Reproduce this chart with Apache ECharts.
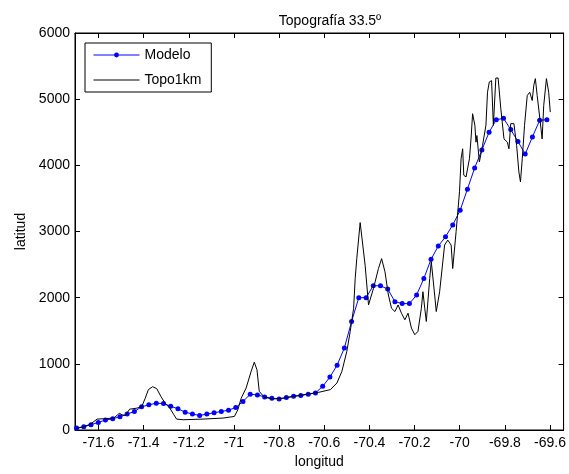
<!DOCTYPE html>
<html>
<head>
<meta charset="utf-8">
<script src="https://cdn.jsdelivr.net/npm/echarts@6/dist/echarts.min.js"></script>
<style>
html,body{margin:0;padding:0;background:#fff;}
#chart{width:569px;height:474px;}
</style>
</head>
<body>
<div id="chart"></div>
<script>
// ---- data ----
var modelLon = [-71.697,-71.665,-71.633,-71.601,-71.569,-71.537,-71.505,-71.473,-71.441,-71.409,
  -71.377,-71.344,-71.312,-71.280,-71.248,-71.216,-71.184,-71.152,-71.120,-71.088,
  -71.056,-71.024,-70.992,-70.960,-70.928,-70.896,-70.864,-70.832,-70.800,-70.768,
  -70.736,-70.704,-70.671,-70.639,-70.607,-70.575,-70.543,-70.511,-70.479,-70.447,
  -70.415,-70.383,-70.351,-70.319,-70.287,-70.255,-70.223,-70.191,-70.159,-70.127,
  -70.095,-70.063,-70.031,-69.998,-69.966,-69.934,-69.902,-69.870,-69.838,-69.806,
  -69.774,-69.742,-69.710,-69.678,-69.646,-69.614];
var modelAlt = [30,50,80,115,150,170,200,240,280,350,
  380,405,400,360,320,270,240,220,240,260,
  280,300,340,430,540,530,500,480,470,490,
  510,520,540,560,660,800,980,1240,1640,2000,
  2000,2180,2180,2130,1940,1910,1910,2040,2290,2580,
  2780,2920,3100,3320,3640,3960,4230,4500,4690,4710,
  4540,4360,4170,4430,4680,4690];

var topoLon = [-71.700,-71.665,-71.635,-71.606,-71.577,-71.533,-71.518,-71.508,-71.496,-71.481,
  -71.462,-71.430,-71.408,-71.393,-71.379,-71.360,-71.342,-71.324,-71.305,-71.284,
  -71.266,-71.254,-71.225,-71.137,-71.049,-70.998,-70.983,-70.968,-70.946,-70.924,
  -70.910,-70.898,-70.888,-70.866,-70.829,-70.785,-70.698,-70.624,-70.573,-70.544,
  -70.522,-70.500,-70.485,-70.470,-70.463,-70.456,-70.441,-70.419,-70.404,-70.397,
  -70.382,-70.360,-70.346,-70.331,-70.316,-70.302,-70.287,-70.273,-70.258,-70.243,
  -70.229,-70.214,-70.199,-70.185,-70.170,-70.163,-70.155,-70.148,-70.133,-70.126,
  -70.111,-70.104,-70.089,-70.067,-70.053,-70.038,-70.031,-70.016,-70.001,-69.994,
  -69.987,-69.982,-69.972,-69.957,-69.950,-69.943,-69.933,-69.928,-69.924,-69.913,
  -69.899,-69.884,-69.877,-69.869,-69.859,-69.851,-69.840,-69.830,-69.818,-69.804,
  -69.789,-69.782,-69.774,-69.760,-69.748,-69.738,-69.731,-69.723,-69.713,-69.701,
  -69.690,-69.679,-69.672,-69.665,-69.657,-69.645,-69.635,-69.628,-69.616,-69.606,
  -69.599];
var topoAlt = [20,50,90,165,170,180,220,255,230,220,
  315,330,355,480,610,655,625,510,405,330,
  230,165,155,165,180,205,305,480,635,885,
  1025,910,585,495,470,480,530,570,610,710,
  885,1190,1490,1840,2290,2590,3135,2490,1890,1865,
  2140,2440,2590,2390,2040,1840,1790,1890,1765,1665,
  1765,1540,1440,1490,1840,2090,1840,1640,2290,2545,
  2040,1790,2090,2795,2870,2795,2440,3000,3600,4100,
  4250,3850,3825,4100,4400,4780,4605,4350,4450,4050,
  4300,4605,5105,5260,5280,4605,5320,5320,4855,4400,
  4350,4250,4630,4630,4300,3900,3750,4100,4605,5055,
  5105,4980,5210,5310,5055,4705,4400,4905,5310,5105,
  4805];

var xTicks = [-71.6,-71.4,-71.2,-71,-70.8,-70.6,-70.4,-70.2,-70,-69.8,-69.6];
var yTicks = [0,1000,2000,3000,4000,5000,6000];

var titleText = 'Topografía 33.5º';
var xName = 'longitud';
var yName = 'latitud';
var seriesNames = ['Modelo', 'Topo1km'];

// ---- chart ----
function zip(a, b){ return a.map(function(v,i){ return [v, b[i]]; }); }
var FONT = 'Liberation Sans';
var xMin = -71.704, xMax = -69.54;
function fmtX(v){ return String(Number(Number(v).toFixed(1))); }
function fmtY(v){ return String(Math.round(v)); }

var chart = echarts.init(document.getElementById('chart'), null, {renderer:'canvas'});
var tickStyle = {show:true, inside:true, length:5, lineStyle:{color:'#000', width:1}};
chart.setOption({
  backgroundColor:'#fff',
  animation:false,
  title:{
    text:titleText, left:325, top:9, textAlign:'center',
    textStyle:{fontFamily:FONT, fontSize:14, fontWeight:'normal', color:'#000'}
  },
  legend:{
    orient:'vertical', left:85, top:43,
    padding:[5,10,5,8], itemGap:11, itemWidth:46, itemHeight:6,
    backgroundColor:'#fff', borderColor:'#000', borderWidth:1, borderRadius:0,
    lineStyle:{width:1},
    textStyle:{fontFamily:FONT, fontSize:14, color:'#000', lineHeight:14},
    data:[
      {name:seriesNames[0]},
      {name:seriesNames[1], itemStyle:{opacity:0}}
    ]
  },
  grid:{left:75, right:2, top:33, bottom:42, show:true, borderColor:'#000', borderWidth:1, containLabel:false},
  xAxis:[{
    type:'value', min:xMin, max:xMax,
    name:xName, nameLocation:'middle', nameGap:25,
    nameTextStyle:{fontFamily:FONT, fontSize:14, color:'#000'},
    axisLine:{show:true, onZero:false, lineStyle:{color:'#000', width:1}},
    axisTick:Object.assign({customValues:xTicks}, tickStyle),
    axisLabel:{customValues:xTicks, formatter:fmtX, margin:6, fontFamily:FONT, fontSize:14, color:'#000', showMinLabel:true, showMaxLabel:true},
    splitLine:{show:false}
  },{
    type:'value', position:'top', min:xMin, max:xMax,
    axisLine:{show:true, onZero:false, lineStyle:{color:'#000', width:1}},
    axisTick:Object.assign({customValues:xTicks}, tickStyle),
    axisLabel:{show:false}, splitLine:{show:false}
  }],
  yAxis:[{
    type:'value', min:0, max:6000, interval:1000,
    name:yName, nameLocation:'middle', nameGap:46, nameRotate:90,
    nameTextStyle:{fontFamily:FONT, fontSize:14, color:'#000'},
    axisLine:{show:true, onZero:false, lineStyle:{color:'#000', width:1}},
    axisTick:Object.assign({customValues:yTicks}, tickStyle),
    axisLabel:{customValues:yTicks, formatter:fmtY, margin:5, fontFamily:FONT, fontSize:14, color:'#000'},
    splitLine:{show:false}
  },{
    type:'value', position:'right', min:0, max:6000, interval:1000,
    axisLine:{show:true, onZero:false, lineStyle:{color:'#000', width:1}},
    axisTick:Object.assign({customValues:yTicks}, tickStyle),
    axisLabel:{show:false}, splitLine:{show:false}
  }],
  series:[{
    name:seriesNames[0], type:'line', xAxisIndex:0, yAxisIndex:0,
    data:zip(modelLon, modelAlt),
    symbol:'circle', symbolSize:5, showAllSymbol:true,
    lineStyle:{color:'#0000ff', width:1},
    itemStyle:{color:'#0000ff'},
    z:2
  },{
    name:seriesNames[1], type:'line', xAxisIndex:0, yAxisIndex:0,
    data:zip(topoLon, topoAlt),
    symbol:'none', showSymbol:false,
    lineStyle:{color:'#000', width:1},
    itemStyle:{color:'#000'},
    z:3
  }]
});
</script>
</body>
</html>
